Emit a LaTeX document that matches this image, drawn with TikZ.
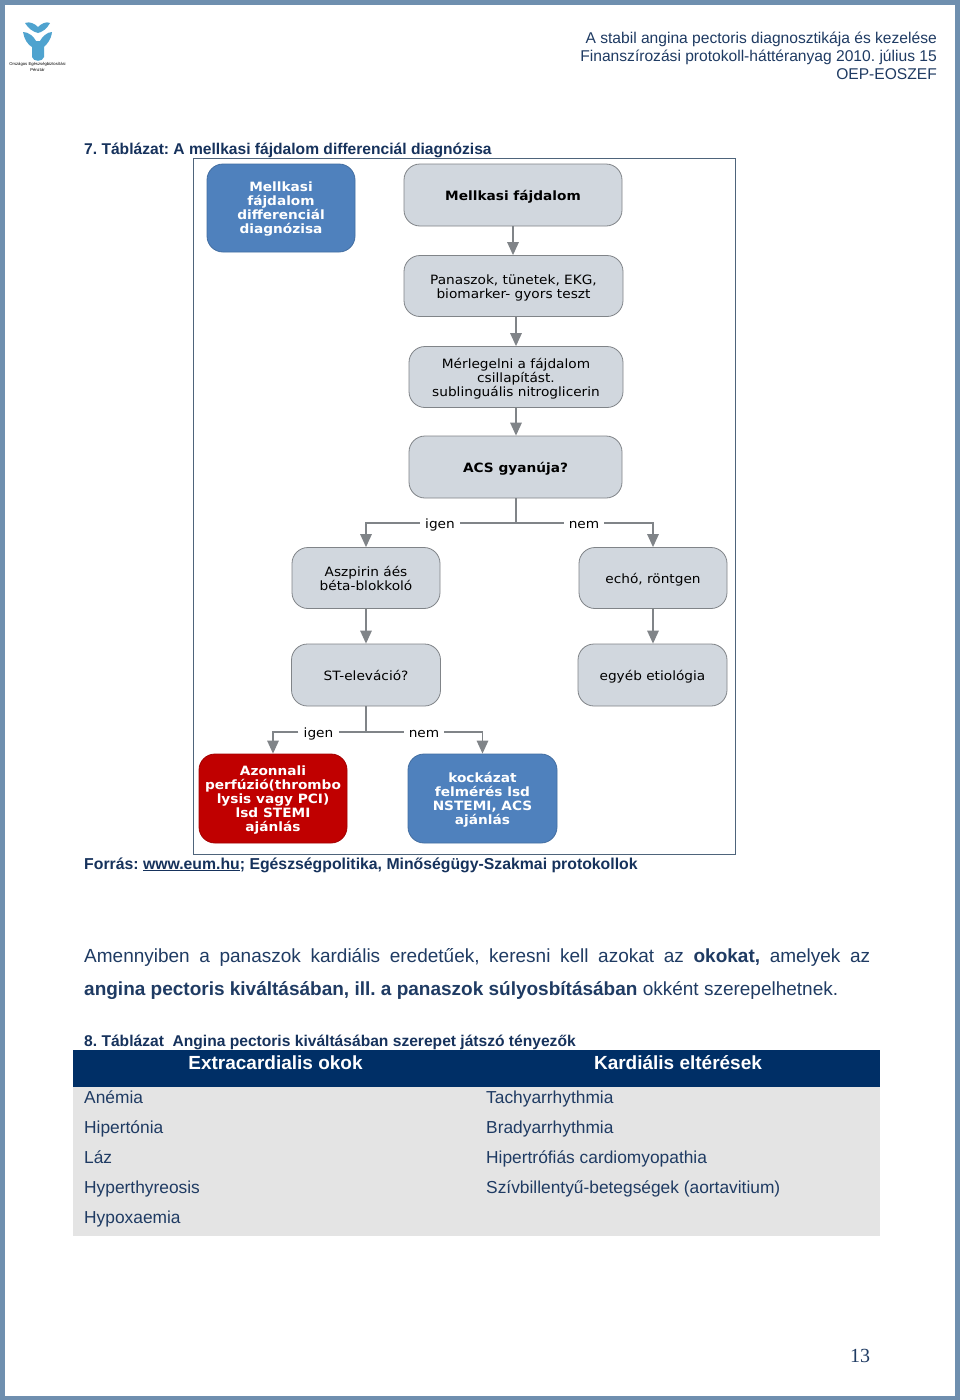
\documentclass[tikz,border=0pt]{standalone}
\usepackage{fontspec}
\setmainfont{Liberation Sans}
\newfontfamily\dv[FakeStretch=1.07]{DejaVu Sans}
\newfontfamily\serifp{Liberation Serif}
\usetikzlibrary{arrows.meta}
\definecolor{frameblue}{HTML}{6F8FAF}
\definecolor{boxgray}{HTML}{D1D7DE}
\definecolor{boxedge}{HTML}{808488}
\definecolor{boxblue}{HTML}{4F81BD}
\definecolor{boxred}{HTML}{C00000}
\definecolor{navy}{HTML}{002F66}
\definecolor{inktxt}{HTML}{1F3B63}
\definecolor{headtxt}{HTML}{16325C}
\definecolor{rowgray}{HTML}{E4E4E4}
\definecolor{logoblue}{HTML}{4FA3CF}
\newcommand\lowtext[1]{\raisebox{-1.5pt}[\height][\depth]{\vbox{\let\\\cr\halign{\hfil##\vphantom{lg}\hfil\cr#1\cr}}}}
\tikzset{
 x=1pt,y=-1pt,
 flowbox/.style={draw=boxedge,line width=.8pt,fill=boxgray,rounded corners=16pt,inner sep=0pt,font=\dv\fontsize{12.8}{14}\selectfont,text=black},
 strongbox/.style={flowbox,font=\dv\bfseries\fontsize{12.8}{14}\selectfont},
 bluebox/.style={strongbox,draw=boxblue!85!black,fill=boxblue,text=white},
 redbox/.style={strongbox,draw=boxred!85!black,fill=boxred,text=white},
 flow/.style={draw=boxedge,line width=1.4pt,-{Triangle[width=11.5pt,length=13pt,fill=boxedge]}},
 plainflow/.style={draw=boxedge,line width=1.4pt},
 branch/.style={inner sep=0pt,minimum width=40pt,minimum height=12pt,font=\dv\fontsize{12.8}{14}\selectfont},
 hdr/.style={anchor=base east,inner sep=0pt,font=\fontsize{15.6}{18}\selectfont,text=inktxt},
 captxt/.style={anchor=base west,inner sep=0pt,font=\bfseries\fontsize{15.6}{19}\selectfont,text=headtxt},
 cell/.style={anchor=base west,inner sep=0pt,font=\fontsize{17.35}{21}\selectfont,text=inktxt},
 thead/.style={anchor=base,inner sep=0pt,font=\bfseries\fontsize{19}{23}\selectfont,text=white},
}
\begin{document}
\frenchspacing
\begin{tikzpicture}
\useasboundingbox (0,0) rectangle (960,1400);
\fill[frameblue] (0,0) rectangle (960,1400);
\fill[white] (5,5) rectangle (955,1396);
% logo
\fill[logoblue] (25,23) .. controls (30,21) and (35,24) .. (38,27) .. controls (41,24) and (46,21) .. (50,23) .. controls (47,29) and (42,32) .. (38,33) .. controls (33,32) and (28,28) .. (25,23) -- cycle;
\fill[logoblue] (23,32) .. controls (29,32) and (34,37) .. (36,41) -- (40,41) .. controls (42,37) and (47,32) .. (52,32) .. controls (51,40) and (47,44) .. (44,47) -- (44,57) .. controls (43,62) and (33,62) .. (32,57) -- (32,47) .. controls (28,45) and (24,39) .. (23,32) -- cycle;
\node[anchor=center,inner sep=0pt,align=center,font=\fontsize{4.2}{6}\selectfont] (logotext) at (37.5,66.5) {Országos Egészségbiztosítási\\Pénztár};
% header
\node[hdr] (h1) at (937,43) {A stabil angina pectoris diagnosztikája és kezelése};
\node[hdr] (h2) at (937,61) {Finanszírozási protokoll-háttéranyag 2010. július 15};
\node[hdr] (h3) at (937,79) {OEP-EOSZEF};
\node[captxt] (t7) at (84,154) {7. Táblázat: A mellkasi fájdalom differenciál diagnózisa};
% flow frame
\draw[draw=frameblue!70!black,line width=.9pt] (193,158) rectangle (735,854);
\node[bluebox,minimum width=148pt,minimum height=88pt] (title) at (281,208) {\lowtext{Mellkasi\\fájdalom\\differenciál\\diagnózisa}};
\node[strongbox,minimum width=218pt,minimum height=62pt] (b1) at (513,195) {\lowtext{Mellkasi fájdalom}};
\node[flowbox,minimum width=219pt,minimum height=61pt] (b2) at (513.5,286) {\lowtext{Panaszok, tünetek, EKG,\\biomarker- gyors teszt}};
\node[flowbox,minimum width=214pt,minimum height=61pt] (b3) at (516,377) {\lowtext{Mérlegelni a fájdalom\\csillapítást.\\sublinguális nitroglicerin}};
\node[strongbox,minimum width=213pt,minimum height=62pt] (b4) at (515.5,467) {\lowtext{ACS gyanúja?}};
\node[flowbox,minimum width=148pt,minimum height=61pt] (asp) at (366,578) {\lowtext{Aszpirin áés\\béta-blokkoló}};
\node[flowbox,minimum width=148pt,minimum height=61pt] (echo) at (653,578) {\lowtext{echó, röntgen}};
\node[flowbox,minimum width=149pt,minimum height=62pt] (st) at (366,675) {\lowtext{ST-eleváció?}};
\node[flowbox,minimum width=149pt,minimum height=62pt] (egy) at (652.5,675) {\lowtext{egyéb etiológia}};
\node[redbox,minimum width=148pt,minimum height=89pt] (red) at (273,798.5) {\lowtext{Azonnali\\perfúzió(thrombo\\lysis vagy PCI)\\lsd STEMI\\ajánlás}};
\node[bluebox,minimum width=149pt,minimum height=89pt] (blu) at (482.5,798.5) {\lowtext{kockázat\\felmérés lsd\\NSTEMI, ACS\\ajánlás}};
\node[branch] (ig1) at (440,523) {\lowtext{igen}};
\node[branch] (ne1) at (584,523) {\lowtext{nem}};
\node[branch] (ig2) at (318.5,732) {\lowtext{igen}};
\node[branch] (ne2) at (424,732) {\lowtext{nem}};
\coordinate (j1) at (516,523);
\coordinate (j2) at (366,732);
\draw[flow] (b1.south) -- (b1.south |- b2.north);
\draw[flow] (b3.north |- b2.south) -- (b3.north);
\draw[flow] (b3.south) -- (b4.north -| b3.south);
\draw[plainflow] (b4.south -| j1) -- (j1);
\draw[plainflow] (j1) -- (ig1.east);
\draw[plainflow] (j1) -- (ne1.west);
\draw[flow] (ig1.west) -| (asp.north);
\draw[flow] (ne1.east) -| (echo.north);
\draw[flow] (asp.south) -- (st.north -| asp.south);
\draw[flow] (echo.south) -- (egy.north -| echo.south);
\draw[plainflow] (st.south -| j2) -- (j2);
\draw[plainflow] (j2) -- (ig2.east);
\draw[plainflow] (j2) -- (ne2.west);
\draw[flow] (ig2.west) -| (red.north);
\draw[flow] (ne2.east) -| (blu.north);
% source
\node[captxt,font=\bfseries\fontsize{15.8}{19}\selectfont] (src) at (84,869) {Forrás: \underline{www.eum.hu}; Egészségpolitika, Minőségügy-Szakmai protokollok};
% paragraph
\node[anchor=north west,inner sep=0pt,text width=786pt,align=justify,font=\fontsize{19}{33}\selectfont,text=inktxt] (para) at (84,948) {Amennyiben a panaszok kardiális eredetűek, keresni kell azokat az \textbf{okokat,} amelyek az\linebreak \textbf{angina pectoris kiváltásában, ill. a panaszok súlyosbításában} okként szerepelhetnek.};
\node[captxt] (t8) at (84,1046) {8. Táblázat\ \ Angina pectoris kiváltásában szerepet játszó tényezők};
% table
\fill[rowgray] (73,1086) rectangle (880,1236);
\fill[navy] (73,1050) rectangle (880,1087);
\node[thead] (th1) at (275.5,1069.5) {Extracardialis okok};
\node[thead] (th2) at (678,1069.5) {Kardiális eltérések};
\node[cell] (c1) at (84,1103) {Anémia};
\node[cell] (c2) at (84,1133) {Hipertónia};
\node[cell] (c3) at (84,1163) {Láz};
\node[cell] (c4) at (84,1193) {Hyperthyreosis};
\node[cell] (c5) at (84,1223) {Hypoxaemia};
\node[cell] (d1) at (486,1103) {Tachyarrhythmia};
\node[cell] (d2) at (486,1133) {Bradyarrhythmia};
\node[cell] (d3) at (486,1163) {Hipertrófiás cardiomyopathia};
\node[cell] (d4) at (486,1193) {Szívbillentyű-betegségek (aortavitium)};
\node[anchor=base,inner sep=0pt,font=\serifp\fontsize{20}{24}\selectfont,text=inktxt] (pg) at (860,1362) {13};
\end{tikzpicture}
\end{document}
